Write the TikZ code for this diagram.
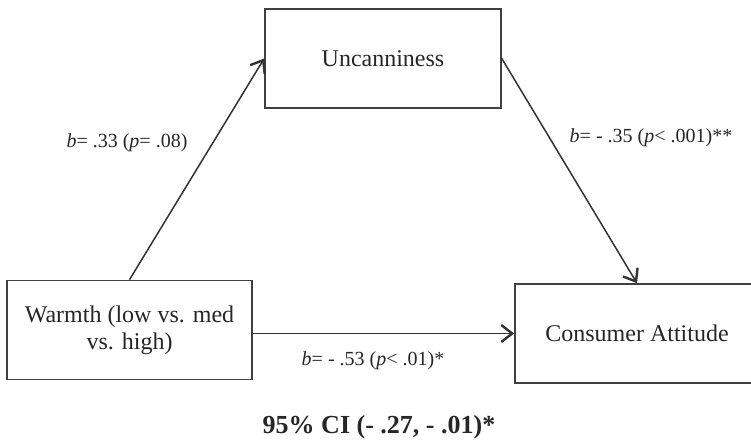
\documentclass[tikz,border=0pt]{standalone}
\usepackage{fontspec}
\setmainfont{Liberation Serif}
\usetikzlibrary{arrows.meta}

\tikzset{
  varbox/.style={draw=black!75,line width=0.8pt,inner sep=0pt,align=center,
    minimum height=49.5pt,text=black!85,font=\fontsize{12}{13.5}\selectfont},
  coef/.style={text=black!85,inner sep=0pt,font=\fontsize{10}{12}\selectfont},
  link/.style={draw=black!80,line width=0.75pt,->}
}

\begin{document}
\begin{tikzpicture}[x=0.5pt,y=-0.5pt,>={Straight Barb[length=5.5pt,width=8.5pt,line width=1.2pt]}]
  \useasboundingbox (0,0) rectangle (751,443);
  \clip (0,0) rectangle (751,443);
  \node[varbox,minimum width=118pt] (uncan) at (383,58.5) {Uncanniness};
  \node[varbox,minimum width=122.5pt] (warmth) at (129.5,330) {Warmth (low vs. med\\vs. high)};
  \node[varbox,minimum width=122pt] (attitude) at (637,333.5) {Consumer Attitude};
  \draw[link] (warmth.north) -- (uncan.west);
  \draw[link] (uncan.east) -- (attitude.north);
  \draw[link] (warmth.east |- attitude.west) -- (attitude.west);
  \node[coef] (a) at (127,143) {\textit{b}= .33 (\textit{p}= .08)};
  \node[coef] (b) at (651,138) {\textit{b}= - .35 (\textit{p}< .001)**};
  \node[coef] (c) at (373,361) {\textit{b}= - .53 (\textit{p}< .01)*};
  \node[text=black!85,inner sep=0pt,font=\fontsize{13}{15}\selectfont\bfseries] (ci) at (379,427) {95\% CI (- .27, - .01)*};
\end{tikzpicture}
\end{document}
